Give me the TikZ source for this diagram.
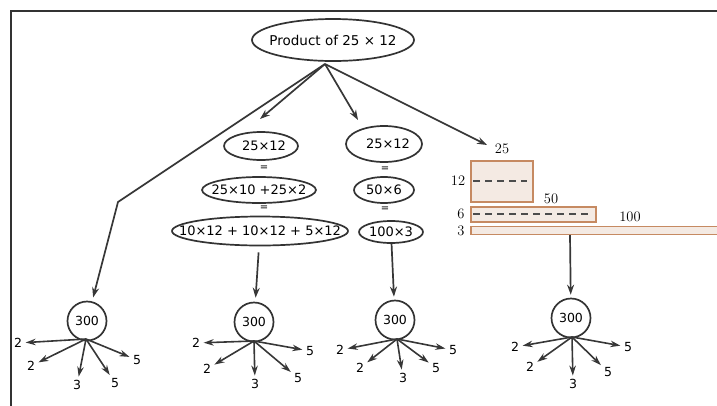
\documentclass[tikz,border=0pt]{standalone}
\usepackage{fontspec}
\usetikzlibrary{shapes.geometric,arrows.meta}
\newfontfamily\nodefont{DejaVu Sans}
\definecolor{rectline}{RGB}{198,138,98}
\definecolor{rectfill}{RGB}{244,234,227}
\definecolor{arrgray}{RGB}{55,55,55}
\newcommand{\zw}[1]{\makebox[0pt]{#1}}
\tikzset{
  arr/.style={draw=arrgray,line width=1.7pt,-{Stealth[length=10pt,width=7pt]}},
  leafarr/.style={draw=arrgray,line width=1.6pt,-{Stealth[length=10pt,width=6.5pt]},shorten >=2pt},
  oval/.style={ellipse,draw=black!80,line width=1.7pt,inner sep=0pt,font=\nodefont\fontsize{13}{15}\selectfont},
  eqsign/.style={inner sep=0pt,font=\nodefont\fontsize{10}{11}\selectfont},
  circ/.style={circle,draw=black!80,line width=1.7pt,minimum size=39pt,inner sep=0pt,font=\nodefont\fontsize{12.5}{14}\selectfont},
  leaf/.style={inner sep=1.5pt,font=\nodefont\fontsize{12.5}{14}\selectfont},
  serifl/.style={inner sep=0pt,font=\fontsize{14.5}{16}\selectfont},
  barbox/.style={draw=rectline,fill=rectfill,line width=1.8pt},
  midline/.style={draw=black!70,line width=1.5pt,dash pattern=on 7pt off 5pt}
}
\begin{document}
\begin{tikzpicture}[x=1pt,y=-1pt]
\useasboundingbox (0,0) rectangle (717,405);
\clip (0,0) rectangle (717,405);
% frame
\draw[line width=2.2pt,black!80] (11,406) -- (11,11) -- (718,11);
% top node
\node[oval,minimum width=162pt,minimum height=42pt,font=\nodefont\fontsize{13.5}{15}\selectfont] (top) at (333,40) {\zw{Product of 25 × 12}};
\coordinate (hub) at (325,64);
% column 2
\node[oval,minimum width=74pt,minimum height=28pt] (e2a) at (261,146) {\zw{\raisebox{-2pt}{\hspace{6pt}25×12}}};
\node[eqsign] (q2a) at (264,168) {=};
\node[oval,minimum width=114pt,minimum height=26pt] (e2b) at (259,190) {\zw{25×10 +25×2}};
\node[eqsign] (q2b) at (264,208) {=};
\node[oval,minimum width=176pt,minimum height=29pt] (e2c) at (260,231) {\zw{10×12 + 10×12 + 5×12}};
% column 3
\node[oval,minimum width=76pt,minimum height=36pt] (e3a) at (384,144) {\zw{\raisebox{-4pt}{\hspace{8pt}25×12}}};
\node[eqsign] (q3a) at (385,169) {=};
\node[oval,minimum width=60pt,minimum height=26pt] (e3b) at (384,190) {\zw{50×6}};
\node[eqsign] (q3b) at (385,209) {=};
\node[oval,minimum width=64pt,minimum height=22pt] (e3c) at (391,232) {\zw{100×3}};
% column 4 rectangles
\draw[barbox] (471,161) rectangle (533,202);
\draw[midline] (473,181) -- (527,181);
\draw[barbox] (471,207) rectangle (596,222);
\draw[midline] (473,214) -- (590,214);
\draw[barbox] (471,226.5) rectangle (740,234.5);
\node[serifl] (l25) at (502,149) {25};
\node[serifl] (l12) at (458,181) {12};
\node[serifl] (l50) at (551,199) {50};
\node[serifl] (l6) at (461,214) {6};
\node[serifl] (l100) at (630,217) {100};
\node[serifl] (l3) at (461,231) {3};
\coordinate (r3b) at (570,235);
% circles
\node[circ] (c1) at (87,321) {300};
\node[circ] (c2) at (254,322) {300};
\node[circ] (c3) at (395,320) {300};
\node[circ] (c4) at (571,318) {300};
% arrows from top
\coordinate (bend) at (118,202);
\coordinate (a2) at (260,119);
\coordinate (a3) at (358,120);
\coordinate (a4) at (487,145);
\draw[arr,shorten >=4pt] (hub) -- (bend) -- (c1);
\draw[arr] (hub) -- (a2);
\draw[arr] (hub) -- (a3);
\draw[arr] (hub) -- (a4);
\draw[arr,shorten <=6pt,shorten >=4pt] (e2c) -- (c2);
\draw[arr,shorten >=3pt] (e3c) -- (c3);
\draw[arr,shorten >=3pt] (r3b) -- (c4);
% leaves circle 1
\coordinate (h1) at (86,339);
\node[leaf] (k1a) at (18,343) {2};
\node[leaf] (k1b) at (31,366) {2};
\node[leaf] (k1c) at (77,385) {3};
\node[leaf] (k1d) at (115,383) {5};
\node[leaf] (k1e) at (137,360) {5};
\foreach \t in {k1a,k1b,k1c,k1d,k1e} \draw[leafarr] (h1) -- (\t);
% leaves circle 2
\coordinate (h2) at (254,341);
\node[leaf] (k2a) at (196,343) {2};
\node[leaf] (k2b) at (207,369) {2};
\node[leaf] (k2c) at (255,384) {3};
\node[leaf] (k2d) at (298,378) {5};
\node[leaf] (k2e) at (310,351) {5};
\foreach \t in {k2a,k2b,k2c,k2d,k2e} \draw[leafarr] (h2) -- (\t);
% leaves circle 3
\coordinate (h3) at (397,339);
\node[leaf] (k3a) at (340,350) {2};
\node[leaf] (k3b) at (360,368) {2};
\node[leaf] (k3c) at (403,378) {3};
\node[leaf] (k3d) at (436,368) {5};
\node[leaf] (k3e) at (453,350) {5};
\foreach \t in {k3a,k3b,k3c,k3d,k3e} \draw[leafarr] (h3) -- (\t);
% leaves circle 4
\coordinate (h4) at (572,337);
\node[leaf] (k4a) at (515,347) {2};
\node[leaf] (k4b) at (530,367) {2};
\node[leaf] (k4c) at (573,384) {3};
\node[leaf] (k4d) at (608,372) {5};
\node[leaf] (k4e) at (628,347) {5};
\foreach \t in {k4a,k4b,k4c,k4d,k4e} \draw[leafarr] (h4) -- (\t);
\end{tikzpicture}
\end{document}
